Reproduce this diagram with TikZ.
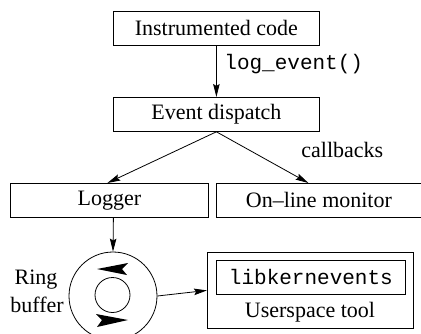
\documentclass[tikz,border=0pt]{standalone}
\usepackage{fontspec}
\setmainfont{Liberation Serif}
\setmonofont{Liberation Mono}
\usetikzlibrary{arrows.meta,calc}
\newcommand{\codefont}{\ttfamily\fontsize{21}{24}\selectfont}
\begin{document}
\begin{tikzpicture}[x=1pt,y=-1pt,
  font=\fontsize{22}{25}\selectfont,
  line width=0.8pt,
  box/.style={draw, rectangle, inner sep=0pt, anchor=north west},
  flow/.style={-{Stealth[length=13pt,width=6.5pt,inset=2pt]}},
  label/.style={inner sep=0pt, anchor=west},
  ringtip/.style={fill=black, draw=none}]
\useasboundingbox (0,0) rectangle (421,333);

% boxes
\node[box, minimum width=206pt, minimum height=34pt] (code) at (113,11) {Instrumented code};
\node[box, minimum width=206pt, minimum height=34pt] (dispatch) at (113,97) {Event dispatch};
\node[box, minimum width=198pt, minimum height=34pt] (logger) at (10,183) {Logger};
\node[box, minimum width=205pt, minimum height=34pt] (monitor) at (216,183) {On\textendash line monitor};
\node[box, minimum width=206pt, minimum height=76pt] (user) at (207,252) {};
\node[box, minimum width=189pt, minimum height=34pt] (lib) at (216,260) {\codefont libkernevents};
\node[inner sep=0pt] (usertxt) at (310,312) {Userspace tool};

% ring buffer
\node[draw, circle, minimum size=88pt, inner sep=0pt] (ring) at (113,296) {};
\node[draw, circle, minimum size=35pt, inner sep=0pt] (hub) at (112.5,295) {};
\fill[ringtip] (97,269) -- (128,263) -- (122,269) -- (127,275) -- cycle;
\fill[ringtip] (128,320) -- (96,314) -- (102,320) -- (97,327) -- cycle;
\node[inner sep=0pt] (ringlbl) at (36,280) {Ring};
\node[inner sep=0pt] (bufflbl) at (37,305) {buffer};

% labels
\node[label] (logev) at (224,64) {\codefont log\_event()};
\node[label] (cb) at (301,150) {callbacks};

% connectors
\draw[flow] (code.south) -- (dispatch.north);
\draw[flow] (dispatch.south) -- ([xshift=-2pt]logger.north);
\draw[flow] (dispatch.south) -- ([xshift=-10.5pt]monitor.north);
\draw[flow] ([xshift=4pt]logger.south) -- (ring.north);
\draw[flow] (ring.east) -- (user.west);
\end{tikzpicture}
\end{document}
